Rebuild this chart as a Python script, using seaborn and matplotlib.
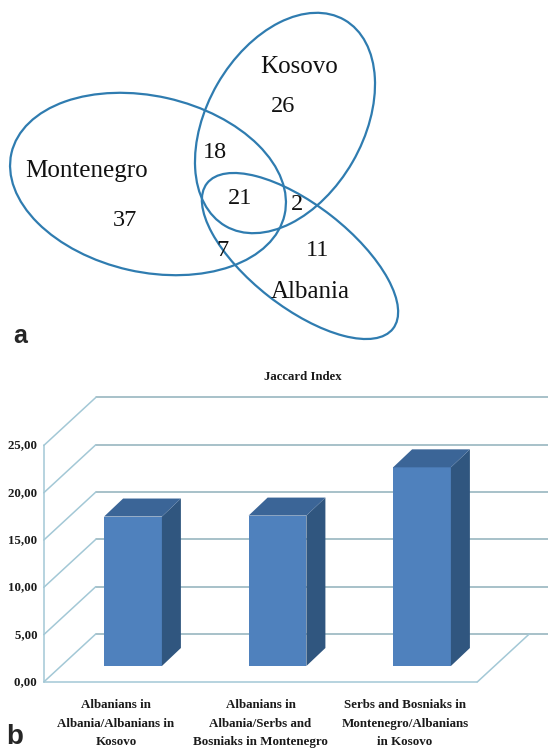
import matplotlib
matplotlib.use("Agg")
import matplotlib.pyplot as plt
import seaborn as sns
import numpy as np
from matplotlib.patches import Ellipse, Polygon

# ---------------- data ----------------
set_names = ["Kosovo", "Montenegro", "Albania"]
region_labels = ["K", "M", "A", "KM", "KA", "MA", "KMA"]
region_counts = [26, 37, 11, 18, 2, 7, 21]

categories = [
    "Albanians in\nAlbania/Albanians in\nKosovo",
    "Albanians in\nAlbania/Serbs and\nBosniaks in Montenegro",
    "Serbs and Bosniaks in\nMontenegro/Albanians\nin Kosovo",
]
jaccard = [15.8, 15.9, 21.0]
ytick_values = [0, 5, 10, 15, 20, 25]
ytick_labels = ["0,00", "5,00", "10,00", "15,00", "20,00", "25,00"]
chart_title = "Jaccard Index"

# ---------------- style ----------------
sns.set_theme(style="white")
plt.rcParams["font.family"] = ["Liberation Serif", "DejaVu Serif"]

W, H = 548, 750
fig = plt.figure(figsize=(W / 100, H / 100), dpi=100)
fig.patch.set_facecolor("white")

# ---------------- panel a: Venn ----------------
axv = fig.add_axes([0, 1 - 345 / H, 1, 345 / H])
axv.set_xlim(0, W)
axv.set_ylim(345, 0)
axv.axis("off")

ell_color = "#2f7cb0"
ellipses = {
    "Montenegro": dict(xy=(148, 184), width=280, height=176, angle=12.7),
    "Kosovo": dict(xy=(285, 123), width=238, height=156, angle=-60),
    "Albania": dict(xy=(300, 256), width=236, height=102, angle=38),
}
for name in set_names:
    e = ellipses[name]
    axv.add_patch(Ellipse(e["xy"], e["width"], e["height"], angle=e["angle"],
                          fill=False, edgecolor=ell_color, linewidth=1.6))

name_pos = {"Kosovo": (299, 67), "Montenegro": (87, 171), "Albania": (310, 292)}
for name in set_names:
    axv.text(*name_pos[name], name, fontsize=18, ha="center", va="center",
             color="#111111")

region_pos = {"K": (283, 107), "M": (125, 221), "A": (318, 251),
              "KM": (215, 152), "KA": (297, 204), "MA": (223, 250),
              "KMA": (240, 199)}
for lab, cnt in zip(region_labels, region_counts):
    axv.text(*region_pos[lab], str(cnt), fontsize=17.5, ha="center",
             va="center", color="#111111")

# ---------------- panel b: 3D-like bar chart ----------------
ax = fig.add_axes([0, 0, 1, 390 / H])
sns.barplot(x=list(range(len(categories))), y=jaccard, color="#4f81bd",
            saturation=1, width=0.40, ax=ax, linewidth=0, zorder=3)
ax.set_xlim(-133 / 144.5, (548 - 133) / 144.5)
ax.set_ylim((666 - 750) / 9.46, (666 - 360) / 9.46)
ax.axis("off")


def shift(x, y, dx, dy):
    p = ax.transData.transform((x, y))
    return ax.transData.inverted().transform((p[0] + dx, p[1] + dy))


FRONT = (-17, -16)
BACK = (35, 32)
BAR_DEPTH = (19, 18)
x_left, x_right = -0.5, 2.5
back_col = "#8fb0bb"
diag_col = "#a3c8d6"
lw = 1.1

for v in ytick_values:
    # back wall horizontal line
    b0 = shift(x_left, v, *BACK)
    b1 = shift(x_right + 0.3, v, *BACK)
    ax.plot([b0[0], b1[0]], [b0[1], b1[1]], color=back_col, lw=lw, zorder=1)
    # left wall diagonal
    f0 = shift(x_left, v, *FRONT)
    ax.plot([f0[0], b0[0]], [f0[1], b0[1]], color=diag_col, lw=lw, zorder=1)
    # tick label
    ax.text(f0[0], f0[1], ytick_labels[ytick_values.index(v)] + "  ",
            ha="right", va="center", fontsize=9.3, fontweight="bold",
            color="#1a1a1a")

# left wall front vertical edge
fa = shift(x_left, ytick_values[0], *FRONT)
fb = shift(x_left, ytick_values[-1], *FRONT)
ax.plot([fa[0], fb[0]], [fa[1], fb[1]], color=diag_col, lw=lw, zorder=1)
# floor front edge and right diagonal
fr = shift(x_right, 0, *FRONT)
br = shift(x_right, 0, *BACK)
ax.plot([fa[0], fr[0]], [fa[1], fr[1]], color=diag_col, lw=lw, zorder=1)
ax.plot([fr[0], br[0]], [fr[1], br[1]], color=diag_col, lw=lw, zorder=1)

# 3D faces of bars
for p in ax.patches:
    x0, w, h = p.get_x(), p.get_width(), p.get_height()
    x1 = x0 + w
    side = [(x1, 0), (x1, h), tuple(shift(x1, h, *BAR_DEPTH)),
            tuple(shift(x1, 0, *BAR_DEPTH))]
    top = [(x0, h), (x1, h), tuple(shift(x1, h, *BAR_DEPTH)),
           tuple(shift(x0, h, *BAR_DEPTH))]
    ax.add_patch(Polygon(side, closed=True, facecolor="#30567f",
                         edgecolor="none", zorder=3))
    ax.add_patch(Polygon(top, closed=True, facecolor="#3b6597",
                         edgecolor="none", zorder=3))

# category labels
for i, cat in enumerate(categories):
    lx, ly = shift(i, 0, FRONT[0], -33.5)
    ax.text(lx, ly, cat, ha="center", va="top", multialignment="center",
            fontsize=9.4, fontweight="bold", color="#1a1a1a", linespacing=1.72)

# title
fig.text(303 / W, 1 - 377 / H, chart_title, ha="center", va="center",
         fontsize=9.2, fontweight="bold", color="#1a1a1a")

# panel letters
fig.text(13 / W, 1 - 343 / H, "a", fontsize=18, fontweight="bold",
         family=["Liberation Sans", "DejaVu Sans"], ha="left", va="baseline")
fig.text(6 / W, 1 - 749.5 / H, "b", fontsize=20, fontweight="bold",
         family=["Liberation Sans", "DejaVu Sans"], ha="left", va="bottom")

fig.savefig("out.png", dpi=100, facecolor="white")
